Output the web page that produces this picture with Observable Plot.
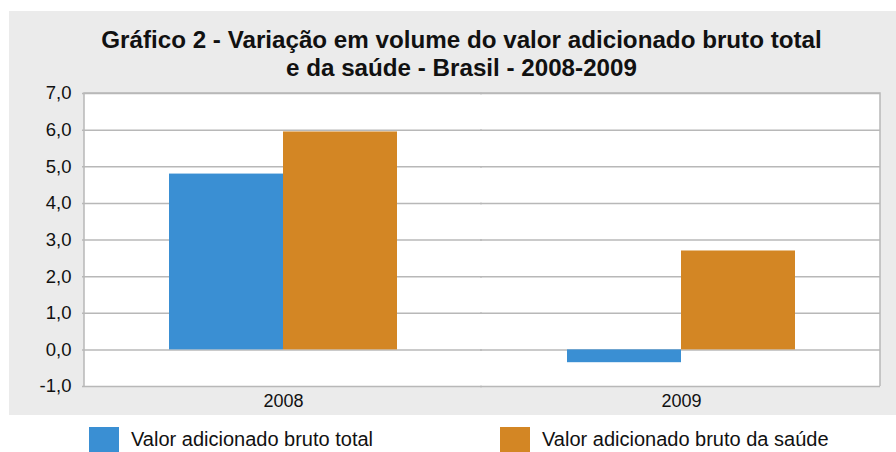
<!DOCTYPE html>
<html>
<head>
<meta charset="utf-8">
<script src="https://cdn.jsdelivr.net/npm/d3@7"></script>
<script src="https://cdn.jsdelivr.net/npm/@observablehq/plot@0.6"></script>
<style>
  html, body { margin: 0; padding: 0; background: #fff; }
  body { width: 896px; height: 452px; position: relative; overflow: hidden; font-family: "Liberation Sans", Arial, sans-serif; }
  #panel { position: absolute; left: 9px; top: 11px; width: 887px; height: 404px; background: #ebebeb; }
  #title { position: absolute; left: 18px; top: 26px; width: 887px; text-align: center; font-weight: bold; font-size: 24.2px; line-height: 28px; color: #111; }
  #chart { position: absolute; left: 0; top: 80px; }
  #legend { position: absolute; left: 0; top: 427px; width: 896px; height: 25px; font-size: 20px; color: #111; }
  .item { position: absolute; top: 0; display: flex; align-items: center; height: 25px; }
  .sw { width: 30px; height: 25px; margin-right: 12px; flex: none; }
</style>
</head>
<body>
<div id="panel"></div>
<div id="title">Gráfico 2 - Variação em volume do valor adicionado bruto total<br>e da saúde - Brasil - 2008-2009</div>
<div id="chart"></div>
<div id="legend"></div>
<script>
const years = ["2008", "2009"];
const seriesNames = ["Valor adicionado bruto total", "Valor adicionado bruto da saúde"];
const totalValues = [4.8, -0.35];
const saudeValues = [5.95, 2.7];
const colors = ["#3a8fd3", "#d38624"];
const yTicks = [-1, 0, 1, 2, 3, 4, 5, 6, 7];

const data = [];
years.forEach((y, i) => {
  data.push({year: y, series: seriesNames[0], value: totalValues[i]});
  data.push({year: y, series: seriesNames[1], value: saudeValues[i]});
});

const fmt = d => d.toFixed(1).replace(".", ",");

const chart = Plot.plot({
  width: 896,
  height: 335,
  marginLeft: 84,
  marginRight: 16,
  marginTop: 13,
  marginBottom: 29,
  style: {background: "transparent", fontFamily: "'Liberation Sans', Arial, sans-serif", fontSize: "18px", color: "#111"},
  fx: {domain: years, padding: 0, label: null, axis: null},
  x: {domain: seriesNames, paddingInner: 0, paddingOuter: 0.745, axis: null},
  y: {domain: [-1, 7], ticks: yTicks, label: null},
  color: {domain: seriesNames, range: colors},
  marks: [
    Plot.ruleY(yTicks, {stroke: "#b8b8b8", strokeWidth: 1.5, insetLeft: -2}),
    Plot.barY(data, {fx: "year", x: "series", y: "value", fill: "series"}),
    Plot.axisY({ticks: yTicks, tickFormat: fmt, tickSize: 0, tickPadding: 13, fontSize: 18.5, label: null}),
    Plot.axisFx({tickSize: 0, tickPadding: 8, fontSize: 18, label: null, anchor: "bottom"})
  ]
});
document.getElementById("chart").appendChild(chart);

// white plot area and outer frame (left, top, right), positioned from the chart's own scales
const svg = d3.select(chart);
const yS = chart.scale("y");
const x0 = 84, x1 = 896 - 16;
const yTop = yS.apply(7), yBot = yS.apply(-1);
svg.insert("rect", ":first-child")
  .attr("x", x0).attr("y", yTop).attr("width", x1 - x0).attr("height", yBot - yTop)
  .attr("fill", "#fff");
svg.append("path")
  .attr("d", `M${x0},${yBot}V${yTop}H${x1}V${yBot}`)
  .attr("fill", "none").attr("stroke", "#b8b8b8").attr("stroke-width", 1.5);

const legend = document.getElementById("legend");
const positions = [89, 500];
seriesNames.forEach((s, i) => {
  const it = document.createElement("div");
  it.className = "item";
  it.style.left = positions[i] + "px";
  it.innerHTML = `<div class="sw" style="background:${colors[i]}"></div><span>${s}</span>`;
  legend.appendChild(it);
});
</script>
</body>
</html>
